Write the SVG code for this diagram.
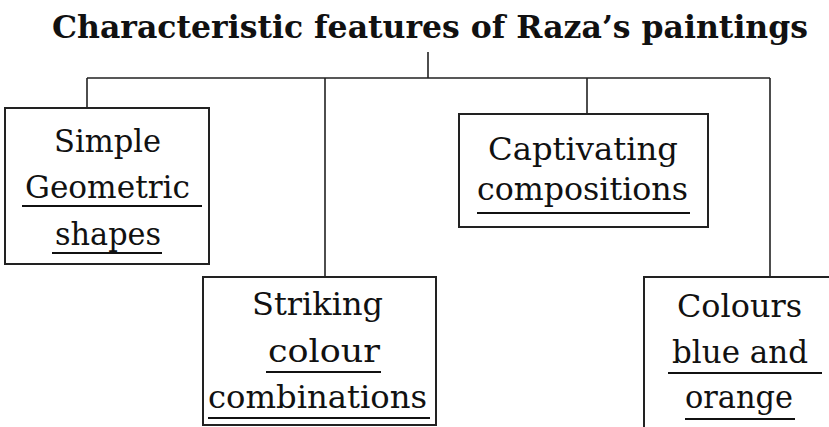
<svg xmlns="http://www.w3.org/2000/svg" width="829" height="427" viewBox="0 0 829 427">
<style>
.t{font-family:"DejaVu Serif","Liberation Serif",serif;font-size:32px;fill:#111;text-anchor:start}
.title{font-family:"DejaVu Serif","Liberation Serif",serif;font-size:31px;font-weight:bold;fill:#111}
.box{fill:#fff;stroke:#222;stroke-width:2}
.ln{stroke:#222;stroke-width:1.6;fill:none}
.ul{stroke:#111;stroke-width:2}
</style>
<rect width="829" height="427" fill="#fff"/>
<text class="title" x="52" y="38" textLength="756" lengthAdjust="spacingAndGlyphs">Characteristic features of Raza’s paintings</text>
<g id="connectors">
<path class="ln" d="M428 52V78M87 78H770M87 78V108M325 78V277M587 78V114M770 78V277"/>
</g>
<g id="node-simple">
<rect class="box" x="5" y="108" width="204" height="156"/>
<text class="t" x="54" y="152" textLength="107" lengthAdjust="spacingAndGlyphs">Simple</text>
<text class="t" x="25" y="198" textLength="165" lengthAdjust="spacingAndGlyphs">Geometric</text>
<line class="ul" x1="22" y1="206" x2="202" y2="206"/>
<text class="t" x="55" y="245" textLength="106" lengthAdjust="spacingAndGlyphs">shapes</text>
<line class="ul" x1="52" y1="253" x2="162" y2="253"/>
</g>
<g id="node-captivating">
<rect class="box" x="459" y="114" width="249" height="113"/>
<text class="t" x="488" y="160" textLength="190" lengthAdjust="spacingAndGlyphs">Captivating</text>
<text class="t" x="477" y="200" textLength="211" lengthAdjust="spacingAndGlyphs">compositions</text>
<line class="ul" x1="477" y1="213" x2="690" y2="213"/>
</g>
<g id="node-striking">
<rect class="box" x="203" y="277" width="233" height="148"/>
<text class="t" x="252" y="315" textLength="131" lengthAdjust="spacingAndGlyphs">Striking</text>
<text class="t" x="268" y="362" textLength="112" lengthAdjust="spacingAndGlyphs">colour</text>
<line class="ul" x1="266" y1="372" x2="381" y2="372"/>
<text class="t" x="208" y="408" textLength="219" lengthAdjust="spacingAndGlyphs">combinations</text>
<line class="ul" x1="208" y1="418" x2="430" y2="418"/>
</g>
<g id="node-colours">
<path class="box" d="M644 427V277H829"/>
<text class="t" x="677" y="317" textLength="125" lengthAdjust="spacingAndGlyphs">Colours</text>
<text class="t" x="672" y="363" textLength="136" lengthAdjust="spacingAndGlyphs">blue and</text>
<line class="ul" x1="668" y1="373" x2="822" y2="373"/>
<text class="t" x="685" y="408" textLength="108" lengthAdjust="spacingAndGlyphs">orange</text>
<line class="ul" x1="685" y1="419" x2="795" y2="419"/>
</g>
</svg>
